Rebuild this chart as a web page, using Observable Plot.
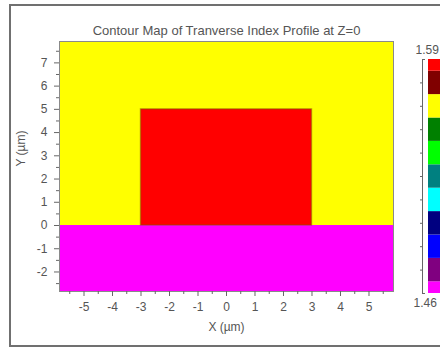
<!DOCTYPE html>
<html>
<head>
<meta charset="utf-8">
<script src="https://cdn.jsdelivr.net/npm/d3@7"></script>
<script src="https://cdn.jsdelivr.net/npm/@observablehq/plot@0.6"></script>
<style>
  html, body { margin: 0; padding: 0; background: #fff; }
  #wrap { position: relative; width: 440px; height: 347px; overflow: hidden; background: #fff; }
  #outer { position: absolute; left: 9px; top: 4px; width: 520px; height: 339px; border: 2px solid #707070; }
  #main, #bar { position: absolute; top: 0; }
  #main { left: 0; width: 440px; height: 347px; }
  #bar { left: 415px; width: 40px; height: 347px; }
  #wrap svg { max-width: none !important; }
</style>
</head>
<body>
<div id="wrap"><div id="outer"></div><div id="main"></div><div id="bar"></div></div>
<script>
const titleText = "Contour Map of Tranverse Index Profile at Z=0";
const xLabel = "X (µm)";
const yLabel = "Y (µm)";

const xDomain = [-5.86, 5.86];
const yDomain = [-2.84, 7.92];
const xTicks = [-5, -4, -3, -2, -1, 0, 1, 2, 3, 4, 5];
const xMinorTicks = [-5.5, -4.5, -3.5, -2.5, -1.5, -0.5, 0.5, 1.5, 2.5, 3.5, 4.5, 5.5];
const yTicks = [-2, -1, 0, 1, 2, 3, 4, 5, 6, 7];
const yMinorTicks = [-2.5, -1.5, -0.5, 0.5, 1.5, 2.5, 3.5, 4.5, 5.5, 6.5, 7.5];

const regionNames = ["cladding", "substrate", "core"];
const regionX1 = [-5.86, -5.86, -3];
const regionX2 = [5.86, 5.86, 3];
const regionY1 = [0, -2.84, 0];
const regionY2 = [7.92, 0, 5];
const regionIndex = [1.564, 1.46, 1.59];

const levels = [1.46, 1.473, 1.486, 1.499, 1.512, 1.525, 1.538, 1.551, 1.564, 1.577, 1.59];
const levelColors = ["#ff00ff", "#800080", "#0000ff", "#000080", "#00ffff", "#008080",
                     "#00ff00", "#008000", "#ffff00", "#800000", "#ff0000"];

const regions = regionNames.map((name, i) => ({
  name, x1: regionX1[i], x2: regionX2[i], y1: regionY1[i], y2: regionY2[i], n: regionIndex[i]
}));

const font = "'Liberation Sans', Arial, Helvetica, sans-serif";
const textColor = "#555555";

const main = Plot.plot({
  width: 440,
  height: 347,
  marginLeft: 59,
  marginRight: 47,
  marginTop: 41,
  marginBottom: 56,
  x: {domain: xDomain},
  y: {domain: yDomain},
  color: {type: "ordinal", domain: levels, range: levelColors},
  style: {fontFamily: font, fontSize: "12px", color: textColor, background: "transparent", overflow: "visible"},
  marks: [
    Plot.rect(regions, {x1: "x1", x2: "x2", y1: "y1", y2: "y2", fill: "n"}),
    Plot.rect(regions.filter(d => d.name === "core"), {x1: "x1", x2: "x2", y1: "y1", y2: "y2", fill: "none", stroke: "#7a5a00", strokeOpacity: 0.45, strokeWidth: 1.5}),
    Plot.frame({stroke: "#8a8a8a"}),
    Plot.axisX({ticks: xTicks, tickSize: 5, tickPadding: 6, tickFormat: d => String(d), label: null, stroke: "#666"}),
    Plot.axisX({ticks: xMinorTicks, tickSize: 3, tickFormat: () => "", label: null, stroke: "#666"}),
    Plot.axisY({ticks: yTicks, tickSize: 5, tickPadding: 7, tickFormat: d => String(d), label: null, stroke: "#666"}),
    Plot.axisY({ticks: yMinorTicks, tickSize: 3, tickFormat: () => "", label: null, stroke: "#666"}),
    Plot.text([titleText], {text: d => d, frameAnchor: "top", dy: -16, fontSize: 13, fill: textColor}),
    Plot.text([xLabel], {text: d => d, frameAnchor: "bottom", dy: 39, fontSize: 12, fill: textColor}),
    Plot.text([yLabel], {text: d => d, frameAnchor: "left", dx: -38, rotate: -90, fontSize: 12, fill: textColor})
  ]
});
document.getElementById("main").appendChild(main);

const lo = levels[0], hi = levels[levels.length - 1];
const half = (levels[1] - levels[0]) / 2;
const bar = Plot.plot({
  width: 40,
  height: 347,
  marginLeft: 13,
  marginRight: 0,
  marginTop: 59,
  marginBottom: 54,
  x: {domain: [0, 1], axis: null},
  y: {domain: [lo, hi], axis: null},
  style: {fontFamily: font, fontSize: "12px", color: textColor, background: "transparent", overflow: "visible"},
  marks: [
    Plot.rect(levels, {
      x1: 0, x2: 1,
      y1: d => Math.max(d - half, lo),
      y2: d => Math.min(d + half, hi),
      fill: (d, i) => levelColors[i]
    }),
    Plot.ruleX([0], {y1: lo, y2: hi, dx: -6, stroke: "#666"}),
    Plot.ruleY([lo, hi], {x1: 0, x2: 0, insetRight: -3, dx: -6, stroke: "#666"}),
    Plot.ruleY(levels.slice(1, -1), {x1: 0, x2: 0, insetLeft: -2, dx: -6, stroke: "#666"}),
    Plot.text([hi], {y: d => d, text: d => d.toFixed(2), frameAnchor: "left", textAnchor: "start", dx: -13, dy: -9, fill: textColor}),
    Plot.text([lo], {y: d => d, text: d => d.toFixed(2), frameAnchor: "left", textAnchor: "start", dx: -15, dy: 10, fill: textColor})
  ]
});
document.getElementById("bar").appendChild(bar);
</script>
</body>
</html>
